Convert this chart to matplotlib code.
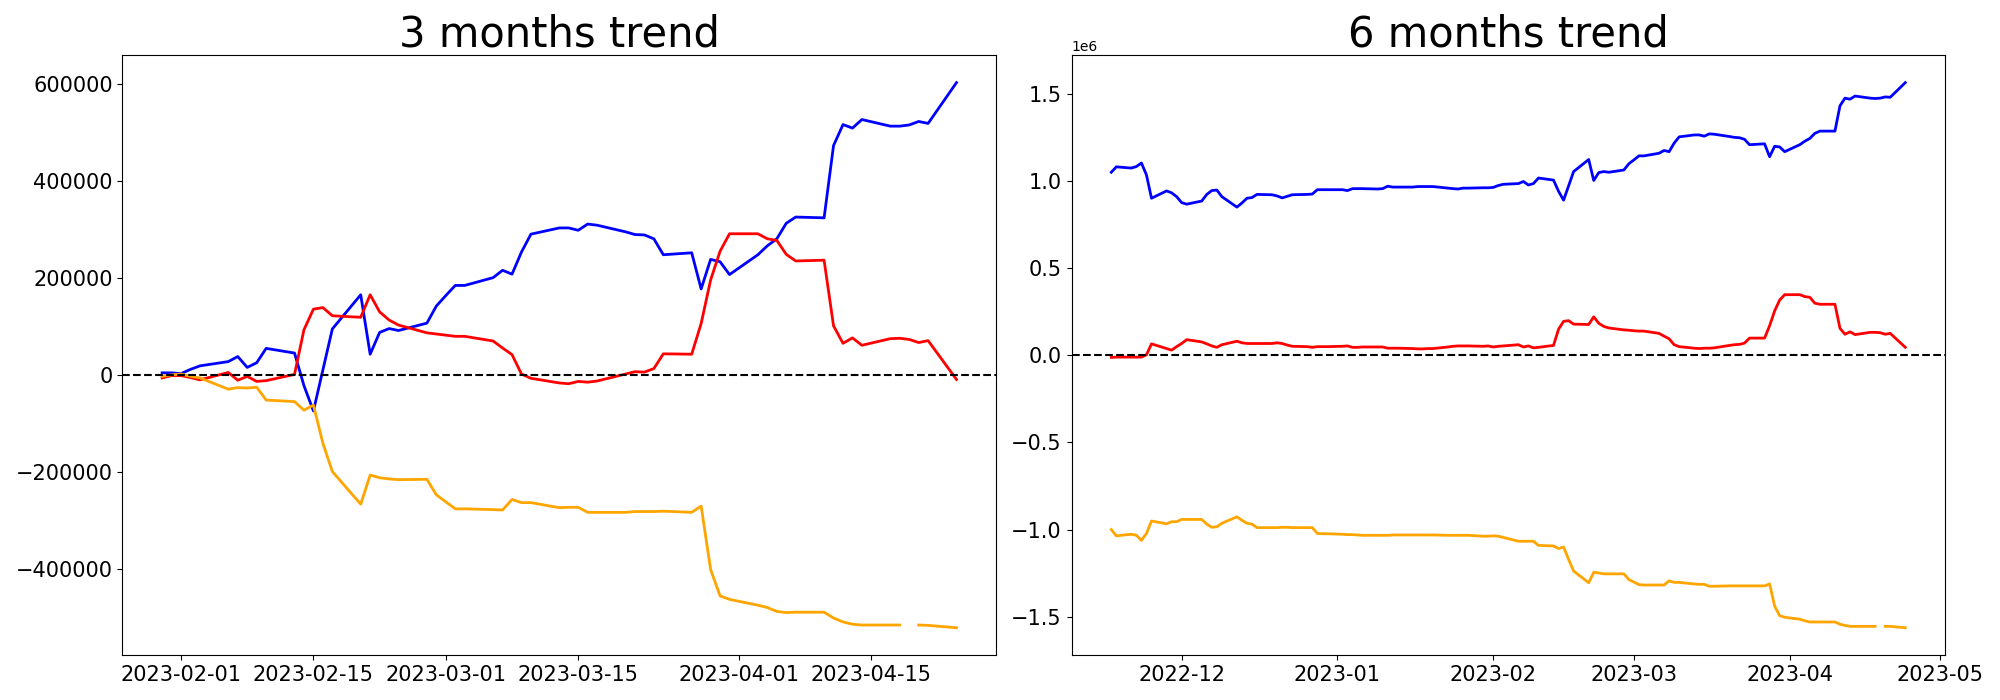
import numpy as np
import pandas as pd
import matplotlib
matplotlib.use('Agg')
import matplotlib.pyplot as plt

nan = np.nan

# ---- 3 months panel (business days 2023-01-30 .. 2023-04-24) ----
dates_3m = pd.bdate_range('2023-01-30', '2023-04-24')
blue_3m = [4800, 4800, 3200, 12000, 19200,
           28000, 38400, 16000, 25600, 55200,
           45600, -21600, -73600, 10800, 95200,
           165600, 43200, 88000, 96000, 92000,
           107200, 142400, 164000, 184800, 184800,
           200800, 216000, 208000, 253600, 290400,
           303200, 303200, 298400, 311200, 308800,
           295200, 289600, 288800, 280800, 248000,
           252000, 177600, 238400, 233600, 207200,
           248000, 266400, 280800, 312800, 325600,
           324000, 472800, 516000, 508800, 526400,
           512800, 512800, 515200, 522400, 518400,
           602400]
red_3m = [-5600, -800, -800, -4800, -9600,
          5600, -10400, -2400, -12800, -11200,
          1600, 93600, 136000, 139200, 122400,
          119200, 165600, 130400, 113600, 103200,
          87200, 84800, 82400, 80000, 80000,
          70400, 56000, 42400, 2400, -6400,
          -16000, -17600, -12800, -14400, -12000,
          2400, 7200, 6400, 13600, 44000,
          43200, 106400, 196000, 255200, 291200,
          291200, 280800, 277600, 248800, 235200,
          236800, 101600, 65600, 76800, 61600,
          75200, 76000, 73600, 67200, 71200,
          -8800]
orange_3m = [-2400, 800, 2400, -2400, -5600,
             -28800, -25600, -26400, -24800, -51200,
             -54400, -72000, -61600, -140000, -198400,
             -265600, -205600, -211200, -213600, -215200,
             -214400, -246400, -260800, -275200, -275200,
             -276800, -277600, -256000, -262400, -262400,
             -272800, -272000, -272000, -282400, -282400,
             -282400, -280800, -280800, -280800, -280000,
             -282400, -269600, -400000, -454400, -461600,
             -473600, -478400, -486400, -488800, -488000,
             -488000, -500000, -508000, -512800, -514400,
             -514400, -514400, nan, -514400, -515200,
             -520000]

# ---- 6 months panel (business days 2022-11-17 .. 2023-04-24) ----
dates_6m = pd.bdate_range('2022-11-17', '2023-04-24')
blue_6m = [1.049, 1.080,
           1.073, 1.082, 1.102, 1.033, 0.900,
           0.942, 0.931, 0.909, 0.875, 0.866,
           0.884, 0.922, 0.944, 0.947, 0.909,
           0.849, 0.873, 0.900, 0.904, 0.922,
           0.920, 0.913, 0.902, 0.911, 0.920,
           0.922, 0.924, 0.949, 0.949, 0.949,
           0.949, 0.944, 0.955, 0.955, 0.955,
           0.953, 0.955, 0.969, 0.964, 0.964,
           0.964, 0.967, 0.967, 0.967, 0.967,
           0.958, 0.955, 0.953, 0.958, 0.958,
           0.960, 0.960, 0.962, 0.973, 0.980,
           0.984, 0.996, 0.976, 0.984, 1.016,
           1.004, 0.940, 0.889, 0.971, 1.053,
           1.122, 1.002, 1.047, 1.053, 1.049,
           1.062, 1.098, 1.120, 1.143, 1.143,
           1.158, 1.174, 1.167, 1.216, 1.252,
           1.263, 1.263, 1.256, 1.269, 1.267,
           1.254, 1.249, 1.247, 1.238, 1.207,
           1.212, 1.138, 1.198, 1.194, 1.167,
           1.207, 1.227, 1.243, 1.272, 1.285,
           1.285, 1.430, 1.474, 1.468, 1.486,
           1.474, 1.472, 1.474, 1.481, 1.479,
           1.563]
red_6m = [-0.013, -0.011,
          -0.011, -0.011, -0.011, 0.002, 0.065,
          0.038, 0.029, 0.049, 0.067, 0.089,
          0.076, 0.065, 0.053, 0.045, 0.060,
          0.080, 0.071, 0.067, 0.067, 0.067,
          0.067, 0.071, 0.067, 0.058, 0.051,
          0.049, 0.045, 0.049, 0.049, 0.049,
          0.051, 0.053, 0.045, 0.045, 0.047,
          0.047, 0.047, 0.040, 0.040, 0.040,
          0.038, 0.036, 0.036, 0.038, 0.038,
          0.047, 0.051, 0.053, 0.053, 0.053,
          0.051, 0.053, 0.047, 0.051, 0.053,
          0.060, 0.047, 0.053, 0.042, 0.045,
          0.056, 0.149, 0.194, 0.198, 0.178,
          0.176, 0.220, 0.183, 0.165, 0.156,
          0.145, 0.143, 0.140, 0.138, 0.138,
          0.125, 0.109, 0.094, 0.060, 0.049,
          0.040, 0.038, 0.040, 0.040, 0.042,
          0.056, 0.060, 0.062, 0.069, 0.098,
          0.098, 0.169, 0.254, 0.316, 0.347,
          0.347, 0.336, 0.332, 0.298, 0.292,
          0.292, 0.154, 0.120, 0.134, 0.118,
          0.131, 0.131, 0.129, 0.120, 0.125,
          0.045]
orange_6m = [-1.000, -1.036,
             -1.027, -1.033, -1.062, -1.022, -0.951,
             -0.967, -0.955, -0.955, -0.942, -0.942,
             -0.942, -0.969, -0.987, -0.984, -0.964,
             -0.927, -0.947, -0.964, -0.969, -0.989,
             -0.989, -0.989, -0.987, -0.987, -0.989,
             -0.989, -0.989, -1.022, -1.024, -1.024,
             -1.027, -1.029, -1.029, -1.031, -1.033,
             -1.033, -1.033, -1.033, -1.031, -1.031,
             -1.031, -1.031, -1.031, -1.031, -1.031,
             -1.033, -1.033, -1.033, -1.033, -1.033,
             -1.038, -1.038, -1.036, -1.038, -1.045,
             -1.067, -1.067, -1.067, -1.067, -1.091,
             -1.094, -1.109, -1.100, -1.171, -1.238,
             -1.305, -1.245, -1.249, -1.254, -1.254,
             -1.254, -1.287, -1.301, -1.316, -1.318,
             -1.318, -1.318, -1.294, -1.303, -1.303,
             -1.312, -1.314, -1.314, -1.325, -1.325,
             -1.323, -1.323, -1.323, -1.323, -1.323,
             -1.323, -1.312, -1.439, -1.494, -1.503,
             -1.514, -1.523, -1.530, -1.530, -1.530,
             -1.530, -1.543, -1.550, -1.555, -1.555,
             -1.555, -1.555, nan, -1.555, -1.555,
             -1.563]
scale_6m = 1e6


def plot_trend(ax, dates, blue, red, orange, title, scale=1):
    ax.plot(dates, np.array(blue) * scale, color='blue', linewidth=2)
    ax.plot(dates, np.array(red) * scale, color='red', linewidth=2)
    ax.plot(dates, np.array(orange) * scale, color='orange', linewidth=2)
    ax.axhline(0, color='k', linestyle='--', linewidth=1.5)
    ax.set_title(title, fontsize=30)
    ax.tick_params(labelsize=15)


fig = plt.figure(figsize=(20, 7), dpi=100)
ax1 = fig.add_axes([0.0612, 0.0643, 0.4369, 0.8566])
ax2 = fig.add_axes([0.5358, 0.0643, 0.4367, 0.8566])

plot_trend(ax1, dates_3m, blue_3m, red_3m, orange_3m, '3 months trend')
plot_trend(ax2, dates_6m, blue_6m, red_6m, orange_6m, '6 months trend', scale=scale_6m)

plt.savefig('out.png')
